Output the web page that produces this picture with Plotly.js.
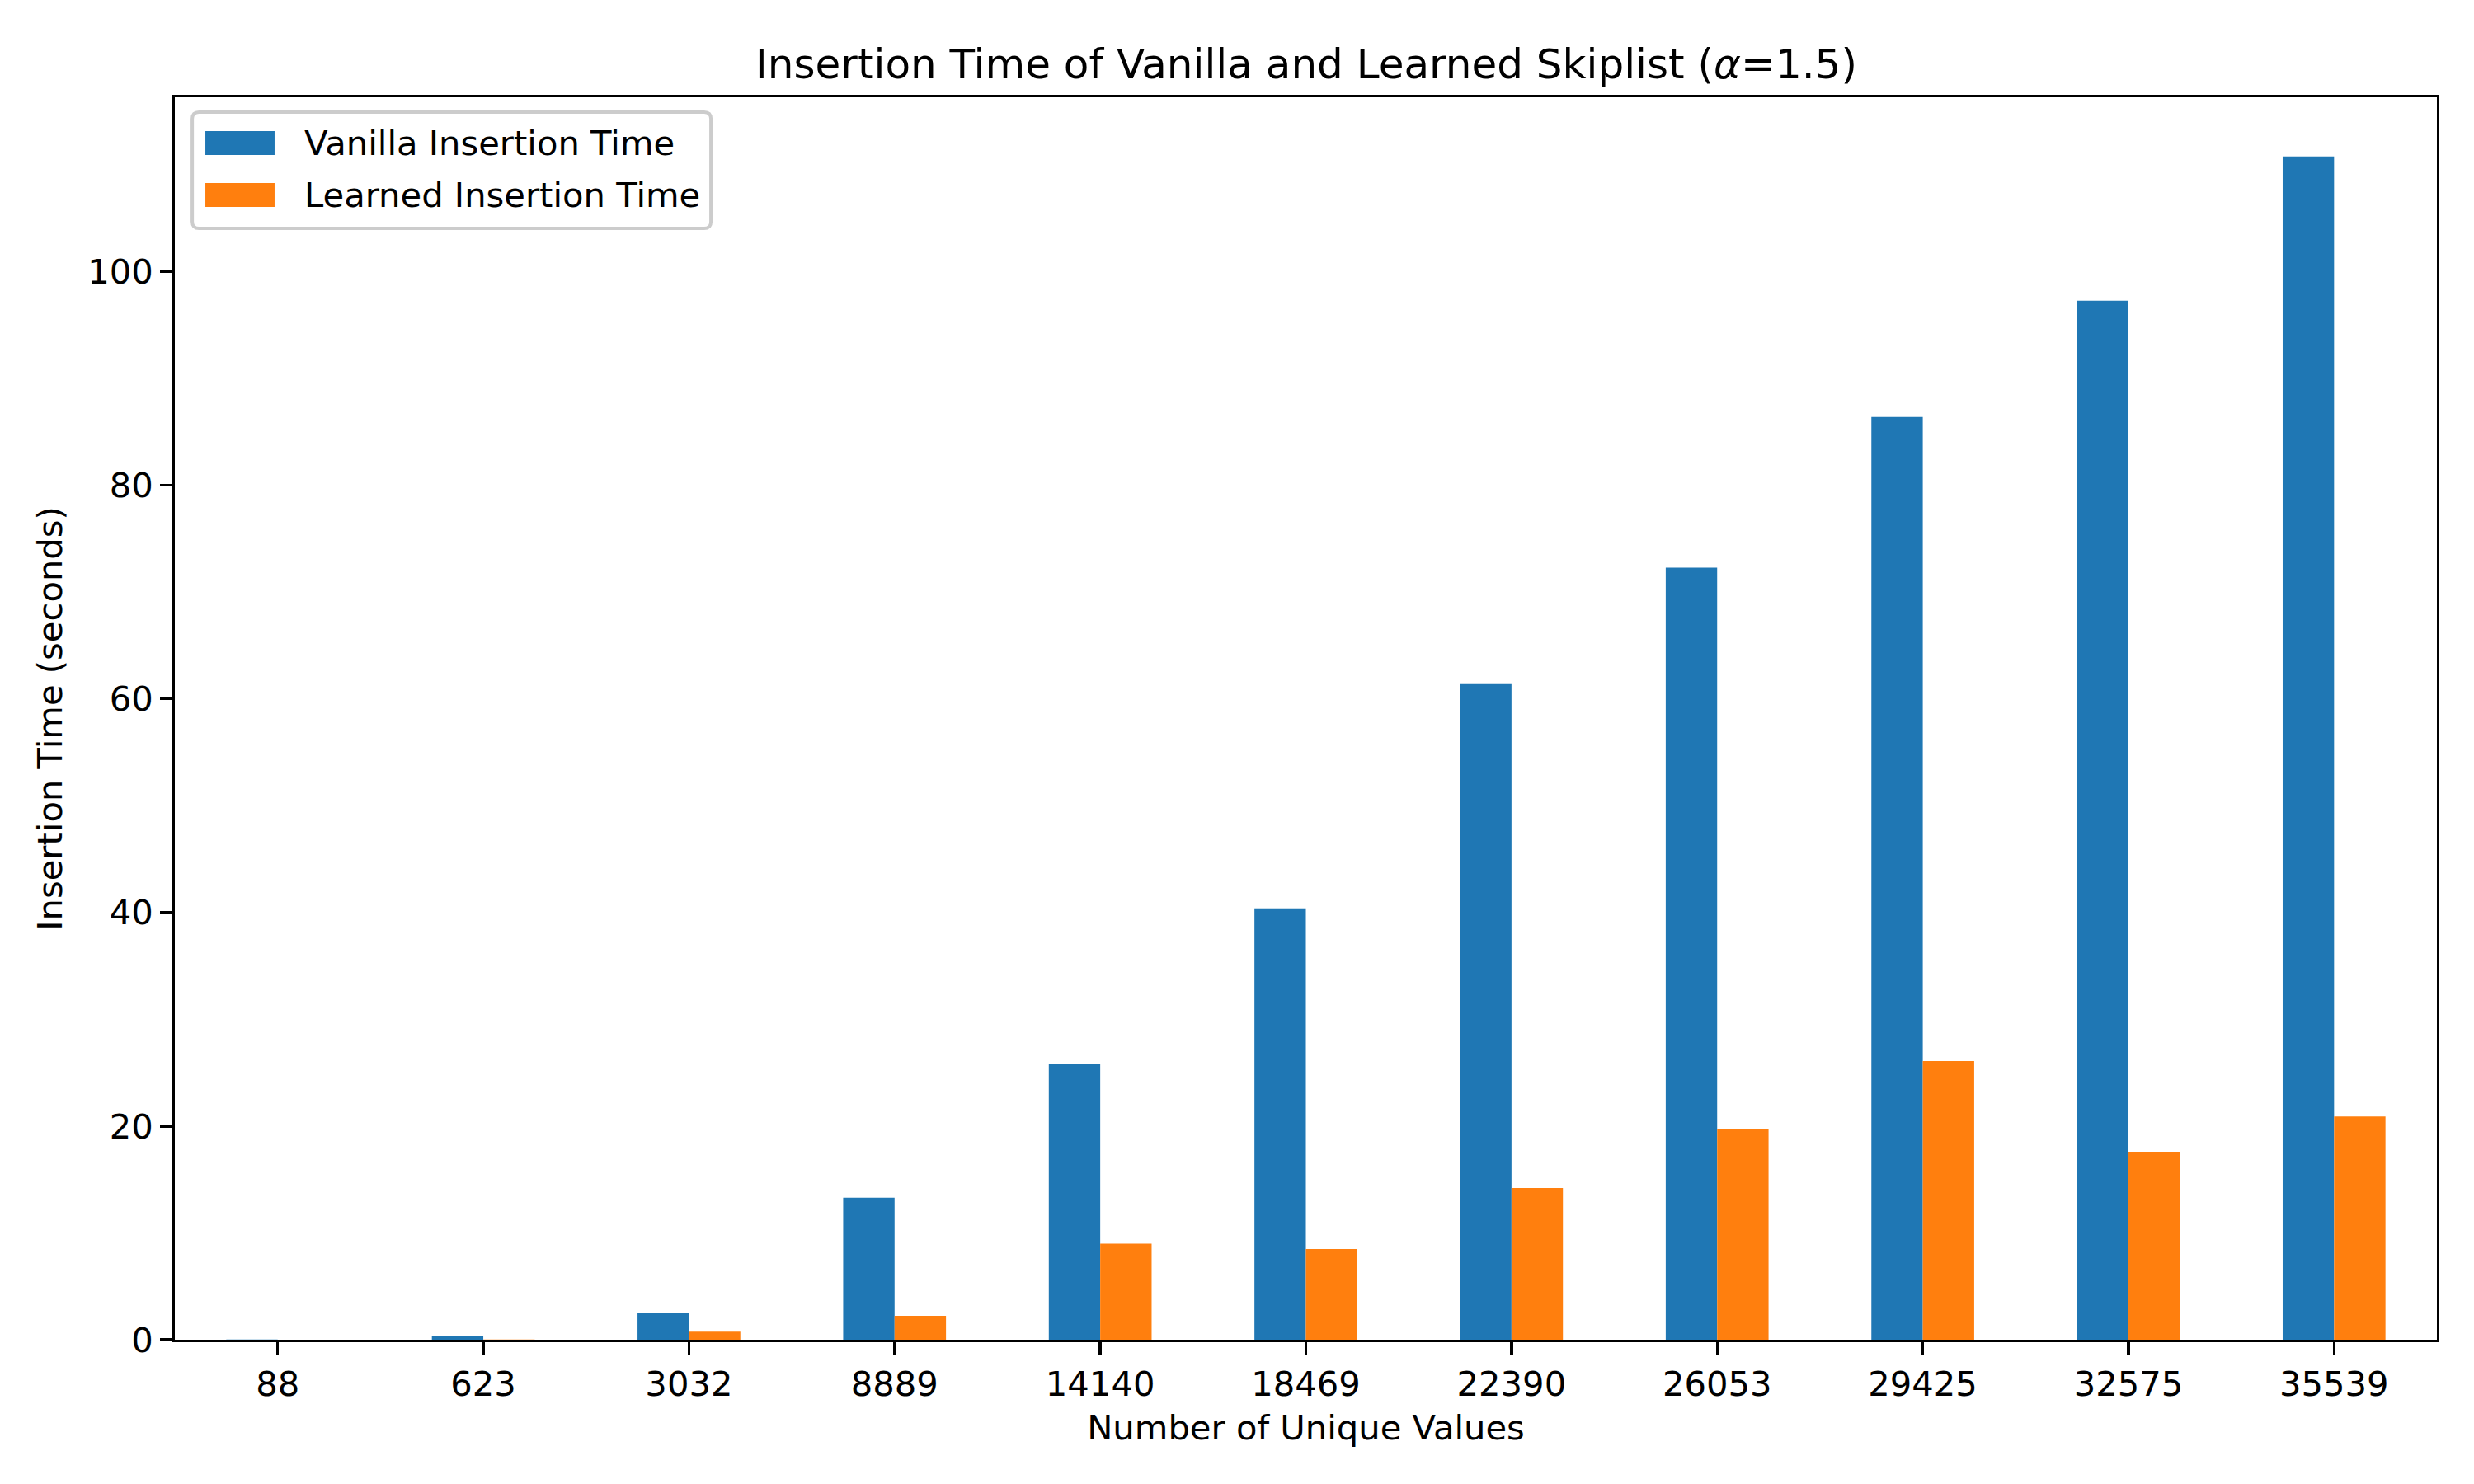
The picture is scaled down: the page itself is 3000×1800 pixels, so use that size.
<!DOCTYPE html>
<html>
<head>
<meta charset="utf-8">
<script src="https://cdn.plot.ly/plotly-3.0.1.min.js"></script>
<style>
  html, body { margin: 0; padding: 0; background: #fff; }
  #chart { width: 3000px; height: 1800px; }
</style>
</head>
<body>
<div id="chart"></div>
<script>
var uniqueValues = ['88', '623', '3032', '8889', '14140', '18469', '22390', '26053', '29425', '32575', '35539'];
var vanillaTime = [0.02, 0.3, 2.55, 13.3, 25.8, 40.4, 61.4, 72.3, 86.4, 97.3, 110.8];
var learnedTime = [0.005, 0.02, 0.75, 2.24, 9.0, 8.5, 14.2, 19.7, 26.1, 17.6, 20.9];
var seriesNames = ['Vanilla Insertion Time', 'Learned Insertion Time'];
var seriesColors = ['#1f77b4', '#ff7f0e'];

var FONT = 'DejaVu Sans';
var FS = 41.7;

var vanilla = {
  x: uniqueValues,
  y: vanillaTime,
  name: seriesNames[0],
  type: 'bar',
  marker: {color: seriesColors[0]},
  showlegend: false
};

var learned = {
  x: uniqueValues,
  y: learnedTime,
  name: seriesNames[1],
  type: 'bar',
  marker: {color: seriesColors[1]},
  showlegend: false
};

var yMax = Math.max.apply(null, vanillaTime.concat(learnedTime)) * 1.05;

// hand-made legend box (matplotlib style), paper coords
function roundRect(x0, y0, x1, y1, rx, ry) {
  return 'M' + (x0 + rx) + ',' + y0 +
    ' L' + (x1 - rx) + ',' + y0 + ' Q' + x1 + ',' + y0 + ' ' + x1 + ',' + (y0 - ry) +
    ' L' + x1 + ',' + (y1 + ry) + ' Q' + x1 + ',' + y1 + ' ' + (x1 - rx) + ',' + y1 +
    ' L' + (x0 + rx) + ',' + y1 + ' Q' + x0 + ',' + y1 + ' ' + x0 + ',' + (y1 + ry) +
    ' L' + x0 + ',' + (y0 - ry) + ' Q' + x0 + ',' + y0 + ' ' + (x0 + rx) + ',' + y0 + ' Z';
}

var shapes = [
  {type: 'path', xref: 'paper', yref: 'paper',
   path: roundRect(0.0077, 0.9881, 0.2370, 0.8945, 0.003, 0.0055),
   fillcolor: 'rgba(255,255,255,0.8)', line: {color: '#cccccc', width: 4}},
  {type: 'rect', xref: 'paper', yref: 'paper', x0: 0.0135, x1: 0.0441, y0: 0.9536, y1: 0.9728,
   fillcolor: seriesColors[0], line: {width: 0}},
  {type: 'rect', xref: 'paper', yref: 'paper', x0: 0.0135, x1: 0.0441, y0: 0.9118, y1: 0.9310,
   fillcolor: seriesColors[1], line: {width: 0}}
];

var annotations = [
  {xref: 'paper', yref: 'paper', x: 0.0565, y: 0.9635, xanchor: 'left', yanchor: 'middle',
   text: seriesNames[0], showarrow: false, font: {family: FONT, size: FS, color: '#000'}},
  {xref: 'paper', yref: 'paper', x: 0.0565, y: 0.9211, xanchor: 'left', yanchor: 'middle',
   text: seriesNames[1], showarrow: false, font: {family: FONT, size: FS, color: '#000'}}
];

var layout = {
  width: 3000,
  height: 1800,
  paper_bgcolor: '#fff',
  plot_bgcolor: '#fff',
  font: {family: FONT, size: FS, color: '#000'},
  barmode: 'group',
  bargap: 0.5,
  bargroupgap: 0,
  margin: {l: 212, r: 45, t: 118, b: 175, pad: 0},
  title: {
    text: 'Insertion Time of Vanilla and Learned Skiplist (<i>α</i>=1.5)',
    font: {family: FONT, size: 50, color: '#000'},
    x: 0.528, xanchor: 'center',
    y: 0.957, yanchor: 'middle'
  },
  xaxis: {
    type: 'category',
    range: [-0.5, uniqueValues.length - 0.5],
    showline: true, mirror: true, linecolor: '#000', linewidth: 3.3,
    ticks: 'outside', ticklen: 14.6, tickwidth: 3.3, tickcolor: '#000',
    showgrid: false, zeroline: false,
    tickfont: {family: FONT, size: FS, color: '#000'},
    title: {text: 'Number of Unique Values', font: {family: FONT, size: FS, color: '#000'}, standoff: 16},
    automargin: false
  },
  yaxis: {
    range: [0, yMax],
    dtick: 20,
    showline: true, mirror: true, linecolor: '#000', linewidth: 3.3,
    ticks: 'outside', ticklen: 14.6, tickwidth: 3.3, tickcolor: '#000',
    showgrid: false, zeroline: false,
    tickfont: {family: FONT, size: FS, color: '#000'},
    title: {text: 'Insertion Time (seconds)', font: {family: FONT, size: FS, color: '#000'}, standoff: 18},
    automargin: false
  },
  shapes: shapes,
  annotations: annotations
};

Plotly.newPlot('chart', [vanilla, learned], layout, {displayModeBar: false, staticPlot: true});
</script>
</body>
</html>
